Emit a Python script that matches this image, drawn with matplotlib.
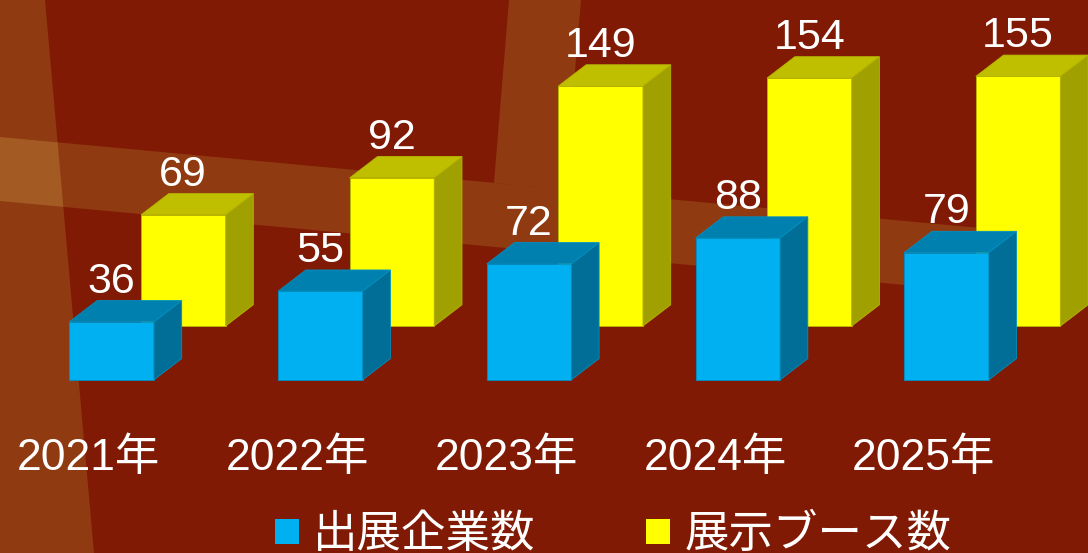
import matplotlib.pyplot as plt
from matplotlib.patches import Polygon, Patch

years = ['2021年', '2022年', '2023年', '2024年', '2025年']
exhibitors = [36, 55, 72, 88, 79]      # 出展企業数
booths = [69, 92, 149, 154, 155]       # 展示ブース数
series_names = ['出展企業数', '展示ブース数']

plt.rcParams['font.family'] = ['Liberation Sans', 'Noto Sans CJK JP']

W, H = 1088, 553
fig = plt.figure(figsize=(W / 100, H / 100), dpi=100)
fig.patch.set_facecolor('#801A04')
ax = fig.add_axes([0, 0, 1, 1])
ax.set_facecolor('none')
ax.axis('off')
ax.set_xlim(-0.535, 4.678)
ax.set_ylim(-107.5, 235.8)


def px(pts):
    # pixel coords (from top-left) -> figure fraction
    return [(x / W, 1 - y / H) for x, y in pts]


# background decoration bands
band = '#8F3A11'
for pts in [
    [(0, 0), (45, 0), (94, 553), (0, 553)],
    [(0, 137), (1088, 238), (1088, 302), (0, 201)],
    [(509, 0), (581, 0), (565, 190), (494, 183)],
]:
    ax.add_patch(Polygon(px(pts), closed=True, facecolor=band, edgecolor='none',
                         transform=fig.transFigure, zorder=0))
ax.add_patch(Polygon(px([(0, 137), (57.6, 142.4), (63.3, 206.9), (0, 201)]), closed=True,
                     facecolor='#A35B23', edgecolor='none', transform=fig.transFigure, zorder=0))

bar_w = 0.405
ddx, ddy = 0.133, 13.2       # bar depth
row_dx, row_dy = 0.343, 33.4  # back row offset


def bar3d(x0, base, h, front, top, side, edge, z):
    l, r = x0 - bar_w / 2, x0 + bar_w / 2
    faces = [
        ([(l, base), (r, base), (r, base + h), (l, base + h)], front),
        ([(l, base + h), (r, base + h), (r + ddx, base + h + ddy), (l + ddx, base + h + ddy)], top),
        ([(r, base), (r + ddx, base + ddy), (r + ddx, base + h + ddy), (r, base + h)], side),
    ]
    for pts, c in faces:
        ax.add_patch(Polygon(pts, closed=True, facecolor=c, edgecolor=edge, linewidth=0.6, zorder=z))


lab = dict(color='white', fontsize=31, ha='center', va='baseline')

# back row: booths
for i, v in enumerate(booths):
    x0 = i + row_dx
    bar3d(x0, row_dy, v, '#FFFF00', '#BFBF00', '#A0A000', '#B8B800', 2)
    ax.text(x0, row_dy + v + ddy + 5, str(v), zorder=5, **lab)

# front row: exhibitors
for i, v in enumerate(exhibitors):
    bar3d(i, 0, v, '#00B0F0', '#0080AF', '#006E96', '#0090C4', 3)
    ax.text(i, v + ddy + 5, str(v), zorder=5, **lab)

for i, y in enumerate(years):
    ax.text(i - 0.109, -56.1, y, color='white', fontsize=32, ha='center', va='baseline')

handles = [Patch(facecolor='#00B0F0', edgecolor='none'), Patch(facecolor='#FFFF00', edgecolor='none')]
ax.legend(handles, series_names, ncol=2, loc='center left', bbox_to_anchor=(275 / W, 1 - 535 / H),
          bbox_transform=fig.transFigure, frameon=False, fontsize=32, labelcolor='white',
          handlelength=0.53, handleheight=0.5, handletextpad=0.32, columnspacing=2.5,
          borderpad=0, borderaxespad=0)

fig.savefig('out.png', dpi=100, facecolor=fig.get_facecolor())
